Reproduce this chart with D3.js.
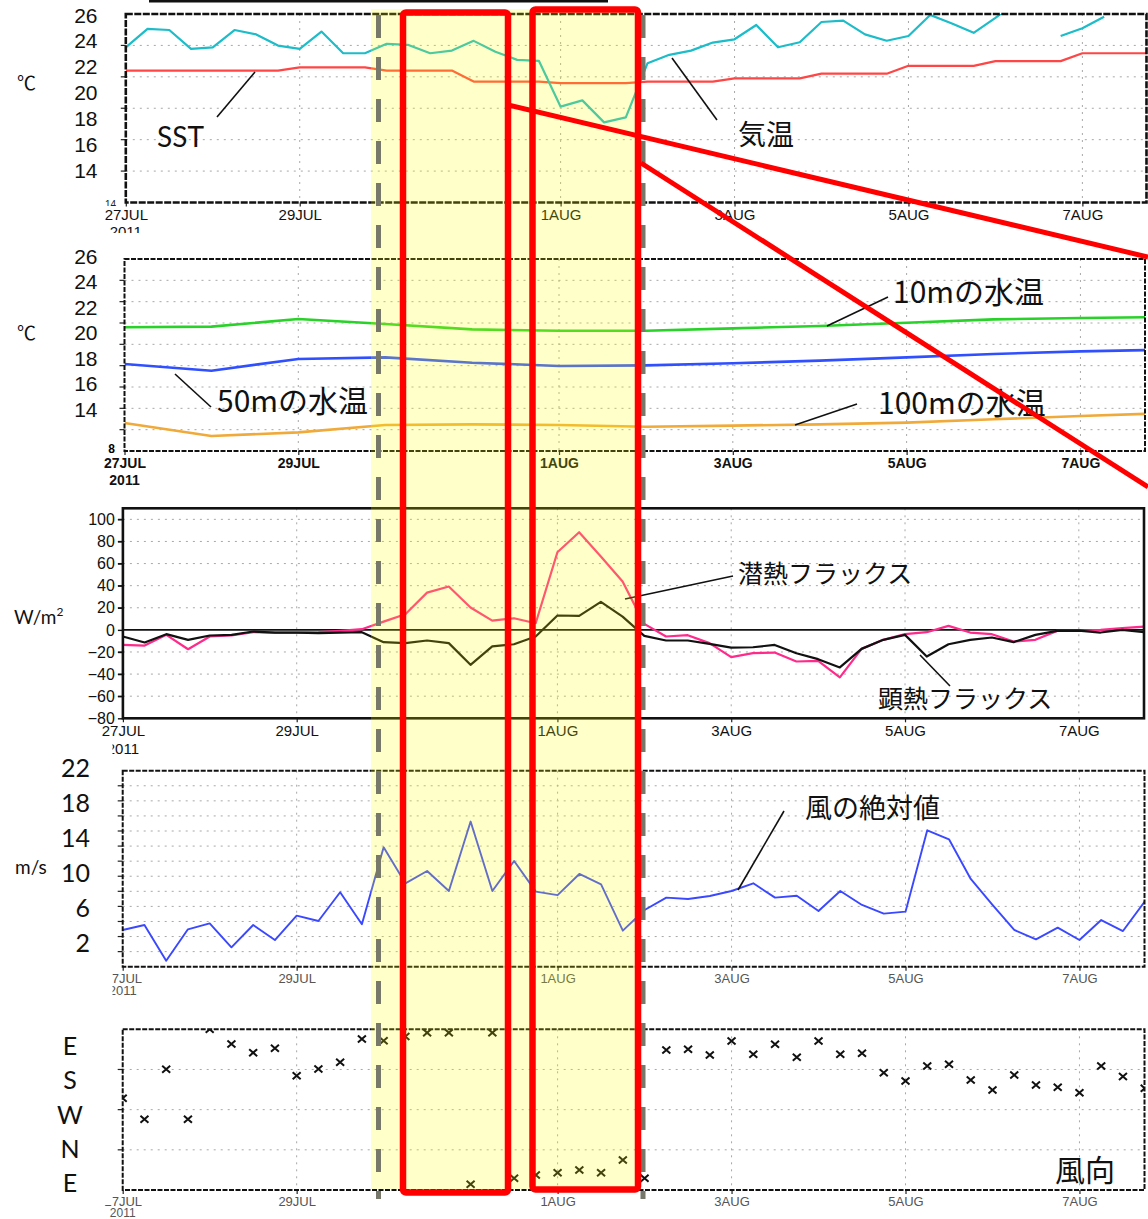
<!DOCTYPE html>
<html lang="ja"><head><meta charset="utf-8">
<script src="https://cdn.jsdelivr.net/npm/d3@7"></script>
<style>
html,body{margin:0;padding:0;background:#fff;}
svg{display:block;}
</style></head>
<body>
<svg id="chart" width="1148" height="1219"></svg>
<script>
// ---- observations: 6-hourly from 27 Jul 2011 00Z (subsurface temps daily) ----
const tickDates  = ["2011-07-27","2011-07-29","2011-08-01","2011-08-03","2011-08-05","2011-08-07"];
const tickLabels = ["27JUL","29JUL","1AUG","3AUG","5AUG","7AUG"];

const airTemp = [23.88,25.05,24.98,23.78,23.88,24.98,24.7,23.99,23.78,24.88,23.5,23.5,
  24.1,24.03,23.5,23.67,24.29,23.6,23.08,23.02,20.1,20.5,19.1,19.42,
  22.87,23.4,23.67,24.18,24.39,25.3,23.88,24.2,25.49,25.58,24.7,24.3,
  24.6,25.94,25.4,24.8,25.75,26.8,null,24.6,25.09,25.83,null,null];
const sst = [22.4,22.4,22.4,22.4,22.4,22.4,22.4,22.4,22.6,22.6,22.6,22.6,
  22.4,22.4,22.4,22.4,21.7,21.7,21.7,21.7,21.6,21.6,21.6,21.6,
  21.7,21.7,21.7,21.7,21.9,21.9,21.9,21.9,22.2,22.2,22.2,22.2,
  22.7,22.7,22.7,22.7,23.0,23.0,23.0,23.0,23.5,23.5,23.5,23.5];
const temp10m  = [19.6,19.66,20.38,19.9,19.4,19.28,19.28,19.5,19.72,20.03,20.34,20.47,20.56];
const temp50m  = [16.16,15.53,16.63,16.78,16.28,15.97,16.03,16.22,16.47,16.78,17.1,17.34,17.5];
const temp100m = [10.63,9.4,9.75,10.44,10.5,10.44,10.28,10.38,10.5,10.66,10.97,11.28,11.55];
const latentFlux = [-13.6,-14.2,-4.5,-17.5,-6,-5.1,-2.1,-2.4,-2.4,-2.1,-0.9,0.6,
  7.5,14.2,33.7,39.2,20.2,8.4,10.5,6.0,70.2,88.3,66.3,43.7,
  5.4,-6.0,-4.8,-12,-24.7,-21.1,-20.5,-28.6,-28,-43,-17.2,-9,
  -3.9,-2.1,3.6,-2.4,-3.9,-10.5,-9,-0.9,-0.6,0,1.5,3];
const sensibleFlux = [-6,-11.4,-3.9,-9,-5.1,-4.5,-1.5,-2.4,-2.4,-3,-2.4,-2.1,
  -11.1,-12,-9.6,-12,-31.6,-15,-13,-6,13,12.7,25.3,12,
  -5.4,-9.6,-9.6,-12.7,-16,-15.7,-13.6,-21.1,-26.5,-34,-17.2,-9,
  -4.5,-24.1,-13,-9,-6.9,-11.1,-4.5,-0.9,-0.6,-2.4,0,-2.1];
const windSpeed = [4.87,5.53,0.8,4.96,5.75,2.57,5.53,3.54,6.77,6.06,9.87,5.62,
  15.84,11.06,12.7,10.04,19.25,10.04,14.03,9.96,9.5,12.3,10.93,4.78,
  7.52,9.16,8.98,9.38,10.04,11.06,9.16,9.42,7.39,10.04,8.19,7.04,
  7.3,18.1,16.9,11.64,8.19,4.87,3.63,5.18,3.54,6.19,4.73,8.63];
const windDir = [205.4,158.4,270.4,158.4,360,327,307.7,317.4,256.2,271.1,286,338.4,
  334.6,343.6,352.5,352.5,12.7,352.5,26.1,33.6,38.8,44.8,38.8,67.2,
  26.1,313.7,315.2,302.5,333.9,304,326.4,297.3,333.9,304,306.2,262.9,
  244.2,277.8,281.6,246.5,224,257.7,235.3,230,218.1,277.8,254,227.8];

const tempLabels = [26,24,22,20,18,16,14];
const windLabels = [22,18,14,10,6,2];
const dirLabels  = ["E","S","W","N","E"];
const fluxTicks  = [100,80,60,40,20,0,-20,-40,-60,-80];

// ---- setup ----
const SANS = "'Liberation Sans', Arial, sans-serif";
const JP   = "'Noto Sans CJK JP', sans-serif";
const CAL  = "Lato, 'Open Sans', sans-serif";

const svg = d3.select("#chart");
const defs = svg.append("defs");
svg.append("rect").attr("width",1148).attr("height",1219).attr("fill","#fff");

const HOUR = 3600e3;
const t0 = Date.UTC(2011,6,27);
const times6h = d3.range(airTemp.length).map(i => new Date(t0 + i*6*HOUR));
const timesDaily = d3.range(temp10m.length).map(i => new Date(t0 + i*24*HOUR));
const tEnd = times6h[times6h.length-1];
const ticks = tickDates.map(s => new Date(s + "T00:00:00Z"));

function panel(cfg){
  const x = d3.scaleUtc().domain([t0, tEnd]).range([cfg.x0, cfg.x1]);
  const y = d3.scaleLinear().domain(cfg.dom).range([cfg.bottom, cfg.top]);
  const g = svg.append("g");
  const cid = "clip" + cfg.id;
  defs.append("clipPath").attr("id", cid).append("rect")
    .attr("x", cfg.x0).attr("y", cfg.top)
    .attr("width", cfg.right - cfg.x0).attr("height", cfg.bottom - cfg.top);

  // dotted grid
  g.append("g").selectAll("line").data(cfg.grid).join("line")
    .attr("x1", cfg.x0).attr("x2", cfg.right)
    .attr("y1", d => y(d)).attr("y2", d => y(d))
    .attr("stroke", "#a8a8a8").attr("stroke-width", 1).attr("stroke-dasharray", "2,5");
  g.append("g").selectAll("line").data(ticks.slice(1)).join("line")
    .attr("x1", d => x(d)).attr("x2", d => x(d))
    .attr("y1", cfg.top).attr("y2", cfg.bottom)
    .attr("stroke", "#a8a8a8").attr("stroke-width", 1).attr("stroke-dasharray", "2,5");

  const plot = g.append("g").attr("clip-path", `url(#${cid})`);

  // x axis
  const ax = g.append("g").attr("transform", `translate(0,${cfg.bottom})`)
    .call(d3.axisBottom(x).tickValues(ticks).tickFormat((d,i) => tickLabels[i])
      .tickSize(4).tickPadding(3));
  ax.select(".domain").remove();
  ax.selectAll("line").attr("stroke", "#222").attr("stroke-width", 1.2);
  ax.selectAll("text").attr("font-family", SANS).attr("font-size", cfg.xfs)
    .attr("font-weight", cfg.xfw).attr("fill", cfg.xcol);
  g.append("text").attr("x", cfg.x0).attr("y", cfg.yearY).attr("text-anchor", "middle")
    .attr("font-family", SANS).attr("font-size", cfg.yfs || cfg.xfs).attr("font-weight", cfg.xfw)
    .attr("fill", cfg.xcol).text("2011");

  // left tick stubs
  g.append("g").selectAll("line").data(cfg.grid).join("line")
    .attr("x1", cfg.x0 - 5).attr("x2", cfg.x0)
    .attr("y1", d => y(d)).attr("y2", d => y(d))
    .attr("stroke", "#222").attr("stroke-width", 1.2);

  const frame = g.append("rect").attr("x", cfg.x0).attr("y", cfg.top)
    .attr("width", cfg.right - cfg.x0).attr("height", cfg.bottom - cfg.top)
    .attr("fill", "none").attr("stroke", "#111").attr("stroke-width", cfg.fw);
  if (cfg.dash) frame.attr("stroke-dasharray", cfg.dash);
  return {x, y, g, plot, cfg};
}

function drawLine(p, times, values, color, width){
  const line = d3.line().defined(d => d[1] != null)
    .x(d => p.x(d[0])).y(d => p.y(d[1]));
  p.plot.append("path").datum(times.map((t,i) => [t, values[i]]))
    .attr("d", line).attr("fill", "none").attr("stroke", color)
    .attr("stroke-width", width).attr("stroke-linejoin", "round");
}

// ---- panel 1: air temperature & SST ----
const p1 = panel({id:1, x0:125.8, x1:1147.6, right:1146.5, top:14, bottom:202.5, dom:[14,26],
  grid:[16,18,20,22,24], fw:2.6, dash:"7,1.5", xfs:15, xfw:"normal", xcol:"#111", yearY:237});
drawLine(p1, times6h, sst, "#ff4646", 2.2);
drawLine(p1, times6h, airTemp, "#1cbcc8", 2.2);
defs.append("clipPath").attr("id", "clipLow14").append("rect")
  .attr("x", 90).attr("y", 195).attr("width", 30).attr("height", 11);
p1.g.append("text").attr("x", 116).attr("y", 208).attr("text-anchor", "end")
  .attr("clip-path", "url(#clipLow14)")
  .attr("font-family", SANS).attr("font-size", 10).attr("fill", "#222").text("14");

// ---- panel 2: subsurface temperatures ----
const p2 = panel({id:2, x0:124.5, x1:1145.6, right:1145, top:259, bottom:451, dom:[8,26],
  grid:d3.range(10,25,2), fw:2, dash:"5,1.5", xfs:14, xfw:"bold", xcol:"#111", yearY:485});
drawLine(p2, timesDaily, temp10m, "#28d228", 2.6);
drawLine(p2, timesDaily, temp50m, "#3050ff", 2.6);
drawLine(p2, timesDaily, temp100m, "#f0aa3a", 2.6);
p2.g.append("text").attr("x", 115).attr("y", 453).attr("text-anchor", "end")
  .attr("font-family", SANS).attr("font-size", 12).attr("font-weight", "bold").text("8");

// ---- panel 3: heat fluxes ----
const p3 = panel({id:3, x0:122.9, x1:1144, right:1144, top:508.3, bottom:718.3, dom:[-80,110],
  grid:[-60,-40,-20,20,40,60,80,100], fw:2.6, dash:null, xfs:15, xfw:"normal", xcol:"#111", yearY:754});
p3.plot.append("line").attr("x1", 122.9).attr("x2", 1144)
  .attr("y1", p3.y(0)).attr("y2", p3.y(0)).attr("stroke", "#111").attr("stroke-width", 1.8);
drawLine(p3, times6h, latentFlux, "#ff2a8a", 2.2);
drawLine(p3, times6h, sensibleFlux, "#111", 2.2);
const ay3 = p3.g.append("g").attr("transform", `translate(${122.9},0)`)
  .call(d3.axisLeft(p3.y).tickValues(fluxTicks)
    .tickFormat(d => d < 0 ? "\u2212" + (-d) : String(d)).tickSize(5).tickPadding(3));
ay3.select(".domain").remove();
ay3.selectAll("line").attr("stroke", "#111").attr("stroke-width", 1.4);
ay3.selectAll("text").attr("font-family", SANS).attr("font-size", 16).attr("fill", "#111");

// ---- panel 4: wind speed ----
const p4 = panel({id:4, x0:122.7, x1:1144.7, right:1144.5, top:770.7, bottom:966.7, dom:[0,26],
  grid:d3.range(2,25,2), fw:2, dash:"5,1.5", xfs:13, xfw:"normal", xcol:"#555", yearY:995});
drawLine(p4, times6h, windSpeed, "#3a48ff", 1.9);

// ---- panel 5: wind direction ----
const p5 = panel({id:5, x0:122.7, x1:1144.7, right:1144.5, top:1029.3, bottom:1190, dom:[0,360],
  grid:[90,180,270], fw:2, dash:"5,1.5", xfs:13, yfs:12, xfw:"normal", xcol:"#555", yearY:1217});
p5.plot.append("g").selectAll("path").data(times6h.map((t,i) => [t, windDir[i]])).join("path")
  .attr("transform", d => `translate(${p5.x(d[0])},${p5.y(d[1])})`)
  .attr("d", "M-4,-3.5L4,3.5M-4,3.5L4,-3.5")
  .attr("stroke", "#111").attr("stroke-width", 2).attr("fill", "none");

// ---- pasted label strips on the left ----
svg.append("rect").attr("x", 0).attr("y", 742).attr("width", 112.5).attr("height", 463).attr("fill", "#fff");
svg.append("rect").attr("x", 90).attr("y", 233).attr("width", 80).attr("height", 20).attr("fill", "#fff");

const tl1 = d3.scaleLinear().domain([26,14]).range([15,170]);
const tl2 = d3.scaleLinear().domain([26,14]).range([256.5,409]);
const tl4 = d3.scaleLinear().domain([22,2]).range([768,943]);
const tl5 = d3.scalePoint().domain(d3.range(dirLabels.length)).range([1046,1183]);

function labelCol(data, ypos, xpos, anchor, font, size){
  svg.append("g").selectAll("text").data(data).join("text")
    .attr("x", xpos).attr("y", (d,i) => ypos(d,i)).attr("dy", "0.36em")
    .attr("text-anchor", anchor).attr("font-family", font).attr("font-size", size)
    .attr("fill", "#111").text(d => d);
}
labelCol(tempLabels, d => tl1(d), 97.5, "end", SANS, 21);
labelCol(tempLabels, d => tl2(d), 97.5, "end", SANS, 21);
labelCol(windLabels, d => tl4(d), 90, "end", CAL, 25);
labelCol(dirLabels, (d,i) => tl5(i), 70, "middle", CAL, 25);

const unit = (x, y, txt, font, size) => svg.append("text").attr("x", x).attr("y", y)
  .attr("font-family", font).attr("font-size", size).attr("fill", "#111").text(txt);
unit(17, 90, "\u2103", JP, 19);
unit(17, 340, "\u2103", JP, 19);
const wm = unit(14, 624, "W/m", CAL, 19);
wm.append("tspan").attr("font-size", 12).attr("dy", -8).text("2");
unit(15, 874, "m/s", CAL, 19);

// ---- annotations ----
function note(txt, tx, ty, font, size, leader){
  svg.append("text").attr("x", tx).attr("y", ty).attr("font-family", font)
    .attr("font-size", size).attr("fill", "#111").text(txt);
  if (leader) svg.append("line").attr("x1", leader[0]).attr("y1", leader[1])
    .attr("x2", leader[2]).attr("y2", leader[3]).attr("stroke", "#111").attr("stroke-width", 1.6);
}
note("SST", 157, 147, CAL, 28, [217,117,255,72]);
note("気温", 738, 145, JP, 28, [672,58,717,120]);
note("10mの水温", 893, 303, JP, 30, [827,326,888,297]);
note("50mの水温", 217, 412, JP, 30, [175,374,211,407]);
note("100mの水温", 878, 414, JP, 30, [795,425,857,404]);
note("潜熱フラックス", 738, 583, JP, 25, [625,599,733,576]);
note("顕熱フラックス", 878, 708, JP, 25, [920,655,950,686]);
note("風の絶対値", 805, 818, JP, 27, [738,890,784,811]);
note("風向", 1055, 1181, JP, 30, null);

// ---- highlighted period ----
svg.append("rect").attr("x", 371).attr("y", 9).attr("width", 270).attr("height", 1180)
  .attr("fill", "#ffff00").attr("opacity", 0.21);
[378.5, 643].forEach(xx => svg.append("line").attr("x1", xx).attr("x2", xx)
  .attr("y1", 15).attr("y2", 1199).attr("stroke", "#77776a").attr("stroke-width", 5)
  .attr("stroke-dasharray", "23,19"));

const red = "#ff0000";
[[403,12.5,508,1192.5],[532.5,9.5,638,1189.5]].forEach(r => svg.append("rect")
  .attr("x", r[0]).attr("y", r[1]).attr("width", r[2]-r[0]).attr("height", r[3]-r[1])
  .attr("rx", 3).attr("fill", "none").attr("stroke", red).attr("stroke-width", 6.5));
[[508,105,1148,257],[641,163,1148,487]].forEach(l => svg.append("line")
  .attr("x1", l[0]).attr("y1", l[1]).attr("x2", l[2]).attr("y2", l[3])
  .attr("stroke", red).attr("stroke-width", 5));

svg.append("line").attr("x1", 149).attr("x2", 608).attr("y1", 1.2).attr("y2", 1.2)
  .attr("stroke", "#111").attr("stroke-width", 2.4);
</script>
</body></html>
